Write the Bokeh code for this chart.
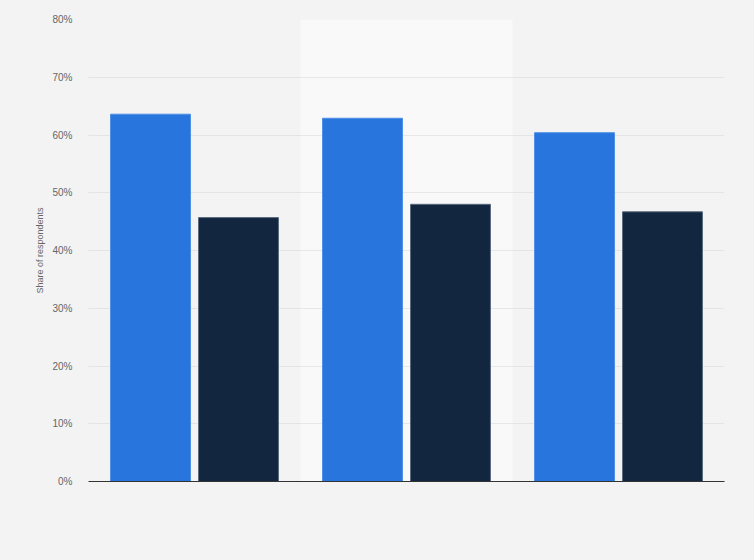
from bokeh.plotting import figure
from bokeh.models import ColumnDataSource, FactorRange, Range1d, PrintfTickFormatter, FixedTicker
from bokeh.transform import dodge
from bokeh.embed import file_html
from bokeh.resources import INLINE

categories = ["Group 1", "Group 2", "Group 3"]
series_names = ["Series 1", "Series 2"]
series1 = [63.6, 62.9, 60.4]
series2 = [45.7, 48.0, 46.7]
band_category = ["Group 2"]
y_ticks = [0, 10, 20, 30, 40, 50, 60, 70, 80]

BG = "#f3f3f3"
FONT = "Liberation Sans"

source = ColumnDataSource(data=dict(cat=categories, s1=series1, s2=series2))
band_src = ColumnDataSource(data=dict(cat=band_category, top=[max(y_ticks)]))

p = figure(
    x_range=FactorRange(*categories, range_padding=0),
    y_range=Range1d(0, max(y_ticks)),
    width=754, height=560,
    output_backend="svg", toolbar_location=None,
    min_border_left=88, min_border_right=30, min_border_top=19, min_border_bottom=79,
)
p.background_fill_color = BG
p.border_fill_color = BG
p.outline_line_color = None

# lighter band behind the middle category
p.vbar(x="cat", top="top", width=1.0, source=band_src, fill_color="#f9f9f9",
       line_color=None, level="image")

p.vbar(x=dodge("cat", -0.2075, range=p.x_range), top="s1", width=0.377, source=source,
       fill_color="#2876dd", line_color="#4d8fe6", line_width=1)
p.vbar(x=dodge("cat", 0.2075, range=p.x_range), top="s2", width=0.377, source=source,
       fill_color="#12263f", line_color="#5a6a7e", line_width=1)

# grid
p.xgrid.grid_line_color = None
p.ygrid.grid_line_color = "#d4d4d4"
p.ygrid.grid_line_dash = "1 1"
p.ygrid.grid_line_width = 1
p.ygrid.ticker = FixedTicker(ticks=y_ticks)

# y axis
p.yaxis.ticker = FixedTicker(ticks=y_ticks)
p.yaxis.formatter = PrintfTickFormatter(format="%d%%")
p.yaxis.axis_line_color = None
p.yaxis.major_tick_line_color = None
p.yaxis.minor_tick_line_color = None
p.yaxis.major_label_text_font = FONT
p.yaxis.major_label_text_font_size = "10px"
p.yaxis.major_label_text_color = "#666666"
p.yaxis.major_label_standoff = 10
p.yaxis.axis_label = "Share of respondents"
p.yaxis.axis_label_text_font = FONT
p.yaxis.axis_label_text_font_size = "9px"
p.yaxis.axis_label_text_font_style = "normal"
p.yaxis.axis_label_text_color = "#666666"
p.yaxis.axis_label_standoff = 4

# x axis: only the baseline
p.xaxis.axis_line_color = "#333333"
p.xaxis.axis_line_width = 1
p.xaxis.major_tick_line_color = None
p.xaxis.minor_tick_line_color = None
p.xaxis.major_label_text_font_size = "0px"
p.xaxis.major_label_text_color = None

html = file_html(p, INLINE)
html = html.replace("<head>", "<head><style>html,body{background:%s;}</style>" % BG, 1)
open("out.html", "w").write(html)
